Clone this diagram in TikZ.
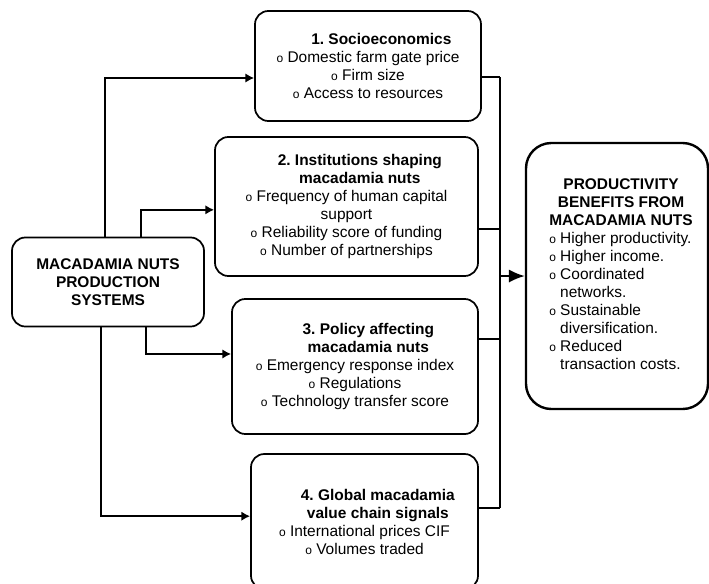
\documentclass[tikz,border=0pt]{standalone}
\usepackage{fontspec}
\setmainfont{Liberation Sans}
\usetikzlibrary{arrows.meta}
\frenchspacing
\newcommand{\bul}{{\fontsize{9}{9}\selectfont o}\ }
\newcommand{\ttl}[1]{\hspace*{20pt}\textbf{#1}}
\tikzset{
	box/.style={draw, line width=1.3pt, rounded corners=10pt, align=center, inner sep=2pt,
		font=\fontsize{11.6}{13.5}\selectfont},
	outbox/.style={box, line width=1.8pt, rounded corners=19pt},
	wire/.style={line width=1.5pt},
	arr/.style={wire, -{Latex[length=6.5pt, width=7pt]}},
	bigarr/.style={wire, -{Latex[length=12pt, width=10pt]}}
}
\begin{document}
\begin{tikzpicture}[x=0.75pt, y=-0.75pt]
		\useasboundingbox (0,0) rectangle (709,583);
		% Boxes:
		\node[box, minimum width=144pt, minimum height=66.75pt] (src) at (108,282)
			{\textbf{MACADAMIA NUTS}\\\textbf{PRODUCTION}\\\textbf{SYSTEMS}};
		\node[box, minimum width=169.5pt, minimum height=82.5pt] (soc) at (368,66)
			{\ttl{1. Socioeconomics}\\\bul Domestic farm gate price\\\bul Firm size\\\bul Access to resources};
		\node[box, minimum width=197.25pt, minimum height=104.25pt] (inst) at (346.5,206.5)
			{\ttl{2. Institutions shaping}\\\ttl{macadamia nuts}\\\bul Frequency of human capital\\support\\\bul Reliability score of funding\\\bul Number of partnerships};
		\node[box, minimum width=184.5pt, minimum height=101.25pt] (pol) at (355,366.5)
			{\ttl{3. Policy affecting}\\\ttl{macadamia nuts}\\\bul Emergency response index\\\bul Regulations\\\bul Technology transfer score};
		\node[box, minimum width=170.25pt, minimum height=101.25pt] (glob) at (364.5,521.5)
			{\ttl{4. Global macadamia}\\\ttl{value chain signals}\\\bul International prices CIF\\\bul Volumes traded};
		\node[outbox, minimum width=136.5pt, minimum height=199.5pt] (out) at (617,276)
			{\begin{tabular}{@{\hspace{6pt}}l@{}}
			\multicolumn{1}{@{\hspace{6pt}}c@{}}{\textbf{PRODUCTIVITY}}\\
			\multicolumn{1}{@{\hspace{6pt}}c@{}}{\textbf{BENEFITS FROM}}\\
			\multicolumn{1}{@{\hspace{6pt}}c@{}}{\textbf{MACADAMIA NUTS}}\\
			\bul Higher productivity.\\
			\bul Higher income.\\
			\bul Coordinated\\
			\phantom{\bul}networks.\\
			\bul Sustainable\\
			\phantom{\bul}diversification.\\
			\bul Reduced\\
			\phantom{\bul}transaction costs.
			\end{tabular}};
		% Wires out of the systems box:
		\draw[arr] (src.north) ++(-3,0) |- ([yshift=-9pt]soc.west);
		\draw[arr] (src.north) ++(33,0) |- ([yshift=-2.5pt]inst.west);
		\draw[arr] (src.south) ++(38,0) |- ([yshift=9.4pt]pol.west);
		\draw[arr] (src.south) ++(-7,0) |- ([yshift=4pt]glob.west);
		% Bus to the benefits box:
		\coordinate (bustop) at (500,77);
		\coordinate (busbot) at (500,508);
		\draw[wire] ([yshift=-8.25pt]soc.east) -- ([yshift=-8.25pt]soc.east -| bustop);
		\draw[wire] ([yshift=-16.9pt]inst.east) -- ([yshift=-16.9pt]inst.east -| bustop);
		\draw[wire] ([yshift=20.6pt]pol.east) -- ([yshift=20.6pt]pol.east -| bustop);
		\draw[wire] ([yshift=10pt]glob.east) -- ([yshift=10pt]glob.east -| bustop);
		\draw[wire] (bustop) -- (busbot);
		\draw[bigarr] (out.west -| bustop) -- (out.west);
	\end{tikzpicture}
\end{document}
